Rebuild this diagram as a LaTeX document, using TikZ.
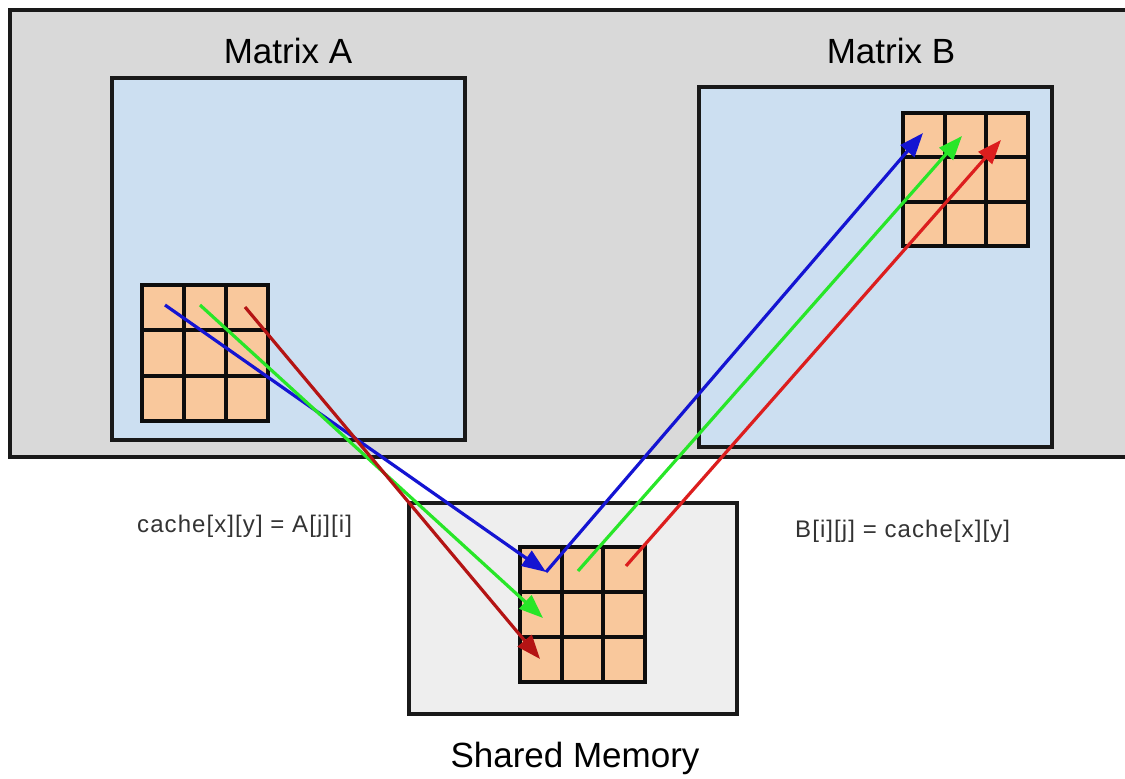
\documentclass[tikz,border=0pt]{standalone}
\usepackage{fontspec}
\setmainfont{Liberation Sans}
\usetikzlibrary{arrows.meta}
\definecolor{outergray}{RGB}{217,217,217}
\definecolor{matblue}{RGB}{204,223,241}
\definecolor{peach}{RGB}{249,200,156}
\definecolor{smgray}{RGB}{238,238,238}
\definecolor{arrblue}{RGB}{20,20,210}
\definecolor{arrgreen}{RGB}{40,230,40}
\definecolor{arrdred}{RGB}{180,20,20}
\definecolor{arrred}{RGB}{220,30,30}
\newcommand\cellgrid[4]{%
  \fill[peach] (#1,#2) rectangle (#3,#4);
  \draw[gridline] ({#1+(#3-#1)/3},#2) -- ({#1+(#3-#1)/3},#4)
                  ({#1+2*(#3-#1)/3},#2) -- ({#1+2*(#3-#1)/3},#4)
                  (#1,{#2+(#4-#2)/3}) -- (#3,{#2+(#4-#2)/3})
                  (#1,{#2+2*(#4-#2)/3}) -- (#3,{#2+2*(#4-#2)/3});
  \draw[gridline] (#1,#2) rectangle (#3,#4);}
\tikzset{
  boxline/.style={draw=black!90, line width=3.2pt},
  gridline/.style={draw=black!95, line width=4pt, line cap=rect},
  flow/.style={line width=3.2pt, -{Triangle[length=24pt,width=18pt]}},
  title/.style={font=\fontsize{35}{40}\selectfont, anchor=base, inner sep=0pt},
  code/.style={font=\fontsize{24}{28}\selectfont\addfontfeatures{LetterSpace=4.5}, anchor=base west, inner sep=0pt, text=black!80},
}
\begin{document}
\begin{tikzpicture}[x=1pt,y=-1pt]
\useasboundingbox (0,0) rectangle (1125,779);
\clip (0,0) rectangle (1125,779);
\fill[white] (0,0) rectangle (1125,779);
% outer region
\filldraw[fill=outergray, boxline] (10,10) rectangle (1140,457);
% matrix boxes
\filldraw[fill=matblue, boxline] (112,78) rectangle (465,440);
\filldraw[fill=matblue, boxline] (699,87) rectangle (1052,447);
% shared memory box
\filldraw[fill=smgray, boxline] (409,503) rectangle (737,714);
% grids
\cellgrid{142}{285}{268}{421}
\cellgrid{903}{113}{1028}{246}
\cellgrid{520}{547}{645}{682}
% titles
\node[title] (ta) at (288,63) {Matrix A};
\node[title] (tb) at (891,63) {Matrix B};
\node[title] (ts) at (575,767) {Shared Memory};
\node[code] (la) at (137,532) {cache[x][y] = A[j][i]};
\node[code] (lb) at (795,537) {B[i][j] =\ cache[x][y]};
% arrow end points
\coordinate (a1) at (165,305);
\coordinate (a2) at (200,305);
\coordinate (a3) at (245,307);
\coordinate (s1) at (546,572);
\coordinate (s2) at (543,618);
\coordinate (s3) at (540,659);
\coordinate (s2b) at (578,571);
\coordinate (s3b) at (626,566);
\coordinate (b1) at (923,133);
\coordinate (b2) at (962,136);
\coordinate (b3) at (1001,140);
% arrows A -> shared
\draw[flow, arrblue] (a1) -- (s1);
\draw[flow, arrgreen] (a2) -- (s2);
\draw[flow, arrdred] (a3) -- (s3);
% arrows shared -> B
\draw[flow, arrblue] (s1) -- (b1);
\draw[flow, arrgreen] (s2b) -- (b2);
\draw[flow, arrred] (s3b) -- (b3);
\end{tikzpicture}
\end{document}
